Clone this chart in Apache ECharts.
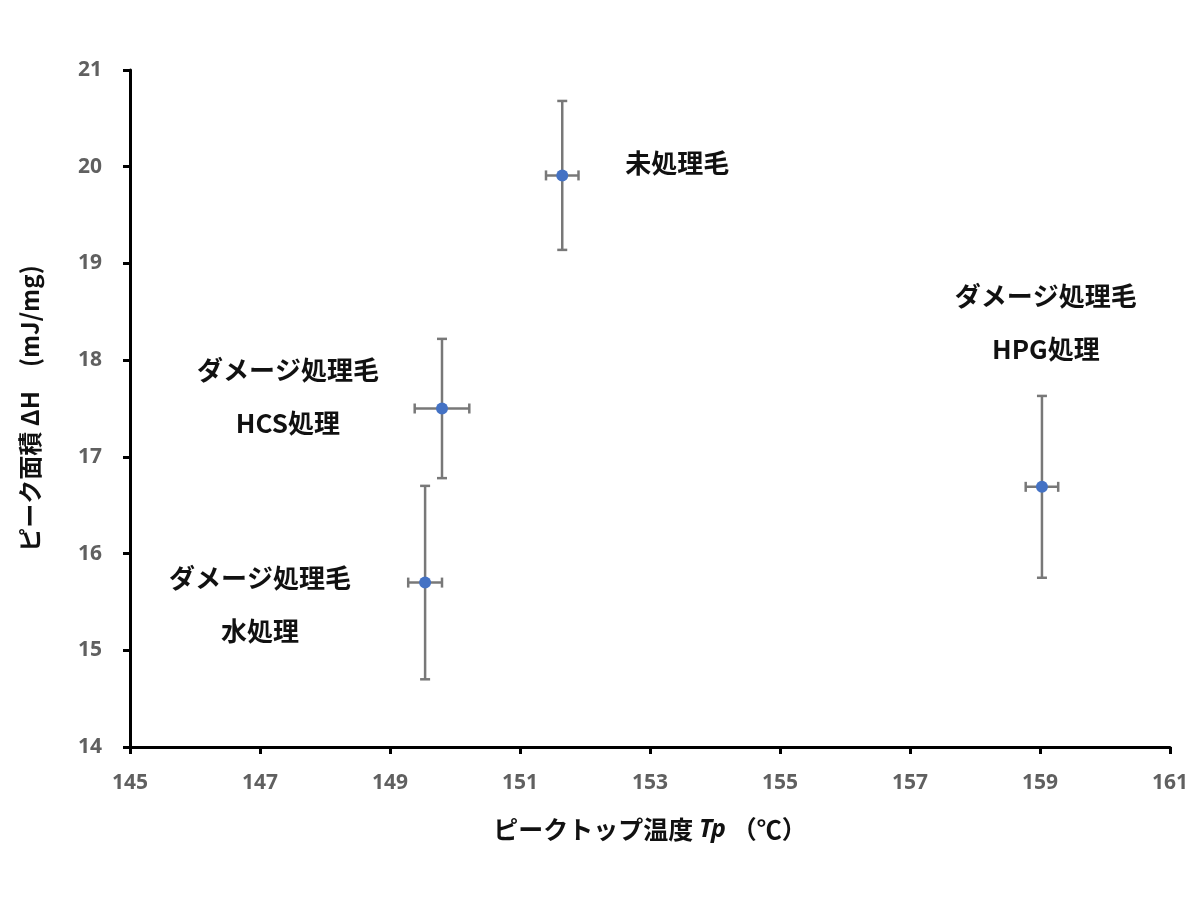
<!DOCTYPE html>
<html>
<head>
<meta charset="utf-8">
<title>ピーク面積とピークトップ温度</title>
<script src="https://cdn.jsdelivr.net/npm/echarts@6/dist/echarts.min.js"></script>
<style>
html, body { margin: 0; padding: 0; background: #fff; }
#chart { width: 1200px; height: 900px; }
</style>
</head>
<body>
<div id="chart"></div>
<script>
// sample values
const temps = [151.65, 149.80, 149.54, 159.03]
const areas = [19.91, 17.50, 15.70, 16.69]
const tempErr = [0.25, 0.42, 0.26, 0.25]
const areaErr = [0.77, 0.72, 1.00, 0.94]

// annotation text and where it sits (data coords)
const sampleNames = ['未処理毛', 'ダメージ処理毛\nHCS処理', 'ダメージ処理毛\n水処理', 'ダメージ処理毛\nHPG処理']
const noteX = [153.42, 147.43, 147.0, 159.09]
const noteY = [20.04, 17.62, 15.47, 18.39]

const jpFont = '"Noto Sans CJK JP", "Noto Sans", sans-serif'
const barColor = '#787878'

const pointData = temps.map((t, i) => [t, areas[i]])
const errData = temps.map((t, i) => [t, areas[i], tempErr[i], areaErr[i]])
const noteData = noteX.map((x, i) => [x, noteY[i], sampleNames[i]])

const renderErrorBar = (params, api) => {
	const x = api.value(0)
	const y = api.value(1)
	const dx = api.value(2)
	const dy = api.value(3)
	const top = api.coord([x, y + dy])
	const bottom = api.coord([x, y - dy])
	const left = api.coord([x - dx, y])
	const right = api.coord([x + dx, y])
	const style = { stroke: barColor, lineWidth: 2.5 }
	const cap = 5
	const line = (x1, y1, x2, y2) => ({
		type: 'line',
		shape: { x1, y1, x2, y2 },
		style,
	})
	return {
		type: 'group',
		children: [
			line(top[0], top[1], bottom[0], bottom[1]),
			line(top[0] - cap, top[1], top[0] + cap, top[1]),
			line(bottom[0] - cap, bottom[1], bottom[0] + cap, bottom[1]),
			line(left[0], left[1], right[0], right[1]),
			line(left[0], left[1] - cap, left[0], left[1] + cap),
			line(right[0], right[1] - cap, right[0], right[1] + cap),
		],
	}
}

const renderNote = (params, api) => {
	const pos = api.coord([api.value(0), api.value(1)])
	return {
		type: 'text',
		x: pos[0],
		y: pos[1],
		style: {
			text: sampleNames[params.dataIndex],
			fill: '#111',
			font: 'bold 26px ' + jpFont,
			align: 'center',
			verticalAlign: 'middle',
			lineHeight: 53,
		},
	}
}

const chart = echarts.init(document.getElementById('chart'))

chart.setOption({
	backgroundColor: '#fff',
	animation: false,
	grid: { left: 130, right: 30, top: 70, bottom: 153 },
	xAxis: {
		type: 'value',
		min: 145,
		max: 161,
		interval: 2,
		splitLine: { show: false },
		axisLine: { show: true, onZero: false, lineStyle: { color: '#000', width: 3 } },
		axisTick: { show: true, length: 7, lineStyle: { color: '#000', width: 3 } },
		axisLabel: {
			margin: 26,
			color: '#606060',
			fontFamily: '"Noto Sans", sans-serif',
			fontWeight: 'bold',
			fontSize: 21,
		},
		name: '{t|ピークトップ温度 }{i|Tp}{t| （℃）}',
		nameLocation: 'middle',
		nameGap: 70,
		nameTextStyle: {
			rich: {
				t: { fontFamily: jpFont, fontWeight: 'bold', fontSize: 25, color: '#111' },
				i: { fontFamily: '"Noto Sans", sans-serif', fontStyle: 'italic', fontWeight: 'bold', fontSize: 25, color: '#111' },
			},
		},
	},
	yAxis: {
		type: 'value',
		min: 14,
		max: 21,
		interval: 1,
		splitLine: { show: false },
		axisLine: { show: true, onZero: false, lineStyle: { color: '#000', width: 3 } },
		axisTick: { show: true, length: 7, lineStyle: { color: '#000', width: 3 } },
		axisLabel: {
			margin: 28,
			color: '#606060',
			fontFamily: '"Noto Sans", sans-serif',
			fontWeight: 'bold',
			fontSize: 21,
		},
		name: 'ピーク面積 ΔH　(mJ/mg)',
		nameLocation: 'middle',
		nameGap: 88,
		nameTextStyle: {
			fontFamily: jpFont,
			fontWeight: 'bold',
			fontSize: 24,
			color: '#111',
		},
	},
	series: [
		{
			type: 'custom',
			name: 'error',
			renderItem: renderErrorBar,
			data: errData,
			encode: { x: 0, y: 1 },
			z: 2,
		},
		{
			type: 'scatter',
			name: 'ΔH',
			data: pointData,
			symbolSize: 12,
			itemStyle: { color: '#4472C4', opacity: 1 },
			z: 3,
		},
		{
			type: 'custom',
			name: 'notes',
			renderItem: renderNote,
			data: noteData,
			encode: { x: 0, y: 1 },
			z: 4,
		},
	],
})
</script>
</body>
</html>
